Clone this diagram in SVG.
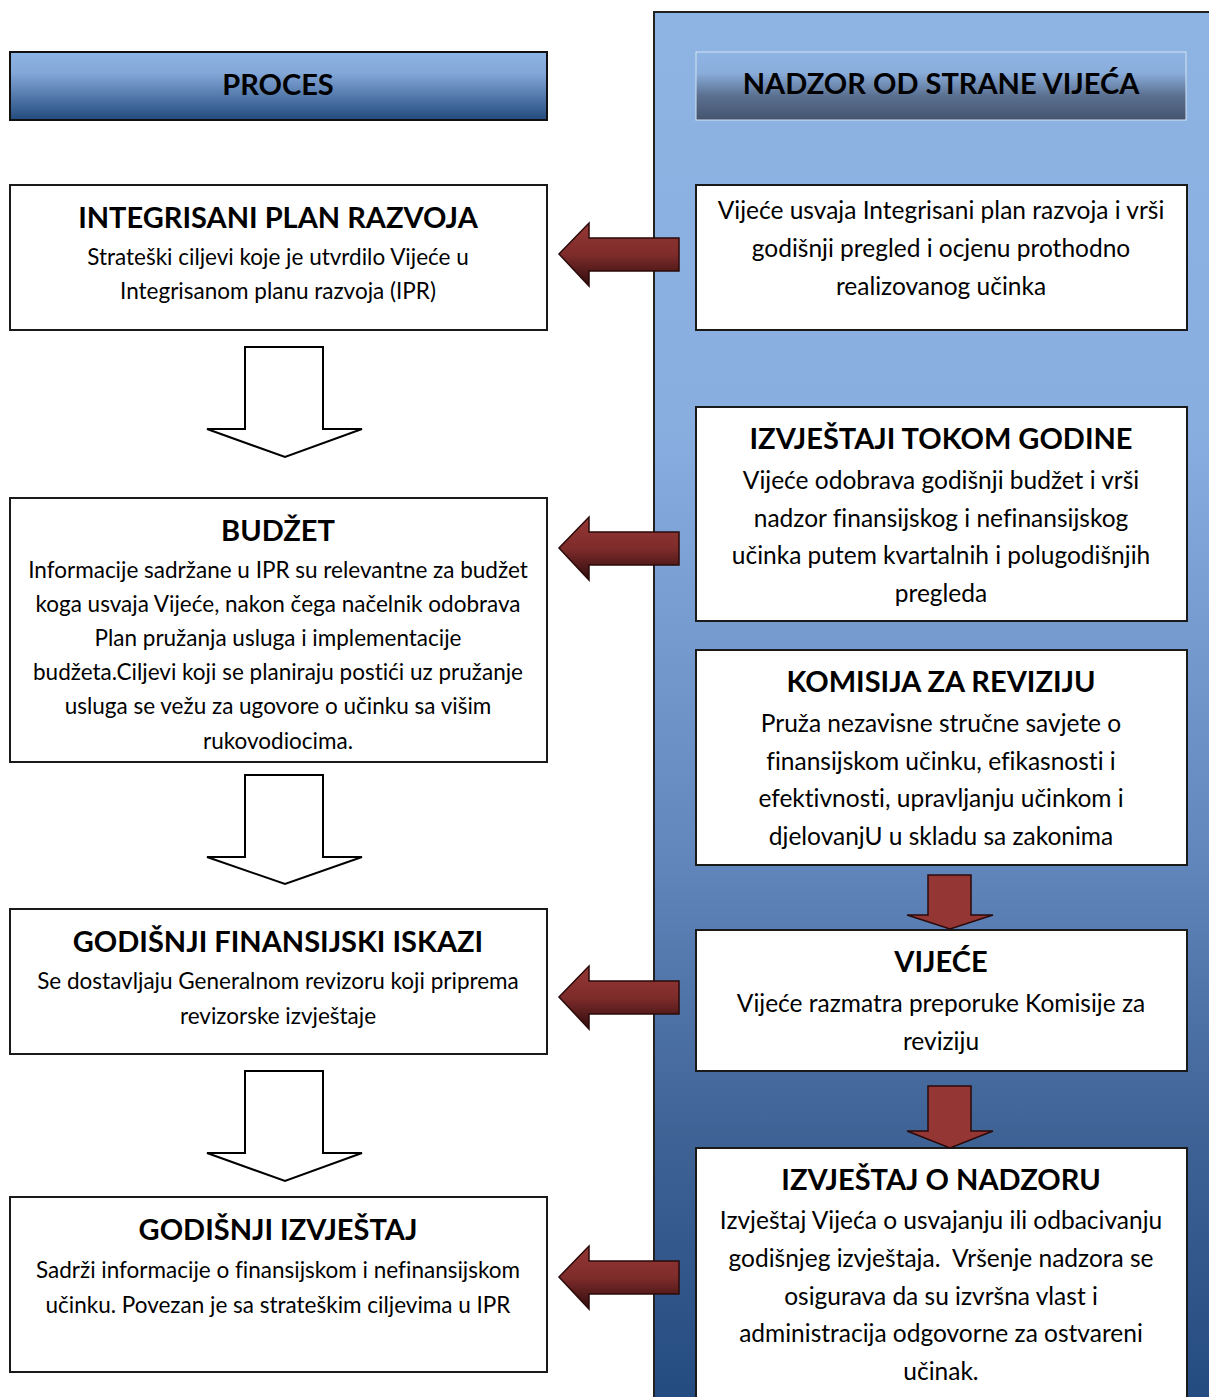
<svg xmlns="http://www.w3.org/2000/svg" width="1209" height="1397" viewBox="0 0 1209 1397">
<defs>
<linearGradient id="panel" x1="0" y1="0" x2="0" y2="1">
<stop offset="0" stop-color="#8eb4e3"/>
<stop offset="0.3" stop-color="#88addf"/>
<stop offset="0.6" stop-color="#6287bd"/>
<stop offset="0.8" stop-color="#3f6395"/>
<stop offset="1" stop-color="#234a80"/>
</linearGradient>
<linearGradient id="hdrL" x1="0" y1="0" x2="0" y2="1">
<stop offset="0" stop-color="#8eb4e3"/>
<stop offset="0.3" stop-color="#84a8d8"/>
<stop offset="1" stop-color="#234a7e"/>
</linearGradient>
<linearGradient id="hdrR" x1="0" y1="0" x2="0" y2="1">
<stop offset="0" stop-color="#8eb4e3"/>
<stop offset="0.3" stop-color="#8aaedc"/>
<stop offset="0.65" stop-color="#5a6f8f"/>
<stop offset="1" stop-color="#44546f"/>
</linearGradient>
<linearGradient id="red" x1="0" y1="0" x2="0" y2="1">
<stop offset="0" stop-color="#953735"/>
<stop offset="0.5" stop-color="#7e2c2b"/>
<stop offset="1" stop-color="#2e0c0b"/>
</linearGradient>
<style>
.box{fill:#fff;stroke:#1a1a1a;stroke-width:2}
.t{font-family:Lato,"Liberation Sans",sans-serif;text-anchor:middle;fill:#000;font-variant-ligatures:none}
.ttl{font-weight:bold;font-size:29px}
.bl{font-size:22.5px}
.br{font-size:24.5px}
.hol{fill:#fff;stroke:#000;stroke-width:2}
.ra{fill:url(#red);stroke:#2a0a0a;stroke-width:1.5}
.da{fill:#943634;stroke:#2a0a0a;stroke-width:1.5}
</style>
</defs>
<rect x="0" y="0" width="1209" height="1397" fill="#fff"/>
<rect id="panel-bg" x="654" y="12" width="570" height="1400" fill="url(#panel)" stroke="#222" stroke-width="2"/>

<g id="hdr-proces">
<rect x="10" y="52" width="537" height="68" fill="url(#hdrL)" stroke="#111" stroke-width="2"/>
<text class="t ttl" x="278" y="95">PROCES</text>
</g>
<g id="hdr-nadzor">
<rect x="696" y="52" width="490" height="68" fill="url(#hdrR)" stroke="#d6e3f3" stroke-width="1"/>
<text class="t ttl" x="941" y="94">NADZOR OD STRANE VIJEĆA</text>
</g>

<g id="n-ipr">
<rect class="box" x="10" y="185" width="537" height="145"/>
<text class="t ttl" x="278" y="228">INTEGRISANI PLAN RAZVOJA</text>
<text class="t bl" x="278" y="265">Strateški ciljevi koje je utvrdilo Vijeće u</text>
<text class="t bl" x="278" y="299">Integrisanom planu razvoja (IPR)</text>
</g>
<g id="n-budzet">
<rect class="box" x="10" y="498" width="537" height="264"/>
<text class="t ttl" x="278" y="541">BUDŽET</text>
<text class="t bl" x="278" y="578">Informacije sadržane u IPR su relevantne za budžet</text>
<text class="t bl" x="278" y="612">koga usvaja Vijeće, nakon čega načelnik odobrava</text>
<text class="t bl" x="278" y="646">Plan pružanja usluga i implementacije</text>
<text class="t bl" x="278" y="680">budžeta.Ciljevi koji se planiraju postići uz pružanje</text>
<text class="t bl" x="278" y="714">usluga se vežu za ugovore o učinku sa višim</text>
<text class="t bl" x="278" y="749">rukovodiocima.</text>
</g>
<g id="n-gfi">
<rect class="box" x="10" y="909" width="537" height="145"/>
<text class="t ttl" x="278" y="952">GODIŠNJI FINANSIJSKI ISKAZI</text>
<text class="t bl" x="278" y="989">Se dostavljaju Generalnom revizoru koji priprema</text>
<text class="t bl" x="278" y="1024">revizorske izvještaje</text>
</g>
<g id="n-gi">
<rect class="box" x="10" y="1197" width="537" height="175"/>
<text class="t ttl" x="278" y="1240">GODIŠNJI IZVJEŠTAJ</text>
<text class="t bl" x="278" y="1278">Sadrži informacije o finansijskom i nefinansijskom</text>
<text class="t bl" x="278" y="1313">učinku. Povezan je sa strateškim ciljevima u IPR</text>
</g>

<g id="n-vijece-usvaja">
<rect class="box" x="696" y="185" width="491" height="145"/>
<text class="t br" x="941" y="219">Vijeće usvaja Integrisani plan razvoja i vrši</text>
<text class="t br" x="941" y="257">godišnji pregled i ocjenu prothodno</text>
<text class="t br" x="941" y="295">realizovanog učinka</text>
</g>
<g id="n-izvjestaji">
<rect class="box" x="696" y="407" width="491" height="214"/>
<text class="t ttl" x="941" y="449">IZVJEŠTAJI TOKOM GODINE</text>
<text class="t br" x="941" y="489">Vijeće odobrava godišnji budžet i vrši</text>
<text class="t br" x="941" y="527">nadzor finansijskog i nefinansijskog</text>
<text class="t br" x="941" y="564">učinka putem kvartalnih i polugodišnjih</text>
<text class="t br" x="941" y="602">pregleda</text>
</g>
<g id="n-komisija">
<rect class="box" x="696" y="650" width="491" height="215"/>
<text class="t ttl" x="941" y="692">KOMISIJA ZA REVIZIJU</text>
<text class="t br" x="941" y="732">Pruža nezavisne stručne savjete o</text>
<text class="t br" x="941" y="770">finansijskom učinku, efikasnosti i</text>
<text class="t br" x="941" y="807">efektivnosti, upravljanju učinkom i</text>
<text class="t br" x="941" y="845">djelovanjU u skladu sa zakonima</text>
</g>
<g id="n-vijece">
<rect class="box" x="696" y="930" width="491" height="141"/>
<text class="t ttl" x="941" y="972">VIJEĆE</text>
<text class="t br" x="941" y="1012">Vijeće razmatra preporuke Komisije za</text>
<text class="t br" x="941" y="1050">reviziju</text>
</g>
<g id="n-izvjestaj-nadzor">
<rect class="box" x="696" y="1148" width="491" height="270"/>
<text class="t ttl" x="941" y="1190">IZVJEŠTAJ O NADZORU</text>
<text class="t br" x="941" y="1229">Izvještaj Vijeća o usvajanju ili odbacivanju</text>
<text class="t br" x="941" y="1267" xml:space="preserve">godišnjeg izvještaja.  Vršenje nadzora se</text>
<text class="t br" x="941" y="1305">osigurava da su izvršna vlast i</text>
<text class="t br" x="941" y="1342">administracija odgovorne za ostvareni</text>
<text class="t br" x="941" y="1380">učinak.</text>
</g>

<g id="connectors">
<path class="hol" d="M245,347 H323 V429 H362 L285,457 L207,429 H245 Z"/>
<path class="hol" d="M245,775 H323 V857 H362 L285,884 L207,857 H245 Z"/>
<path class="hol" d="M245,1071 H323 V1153 H362 L285,1181 L207,1153 H245 Z"/>
<path class="ra" d="M679,238 H589 V223 L559,254 L589,286 V271 H679 Z"/>
<path class="ra" d="M679,532 H589 V517 L559,548 L589,580 V565 H679 Z"/>
<path class="ra" d="M679,981 H589 V966 L559,997 L589,1029 V1014 H679 Z"/>
<path class="ra" d="M679,1261 H589 V1246 L559,1277 L589,1309 V1294 H679 Z"/>
<path class="da" d="M928,875 H971 V915 H993 L950,929 L907,915 H928 Z"/>
<path class="da" d="M928,1086 H971 V1131 H993 L950,1148 L907,1131 H928 Z"/>
</g>
</svg>
